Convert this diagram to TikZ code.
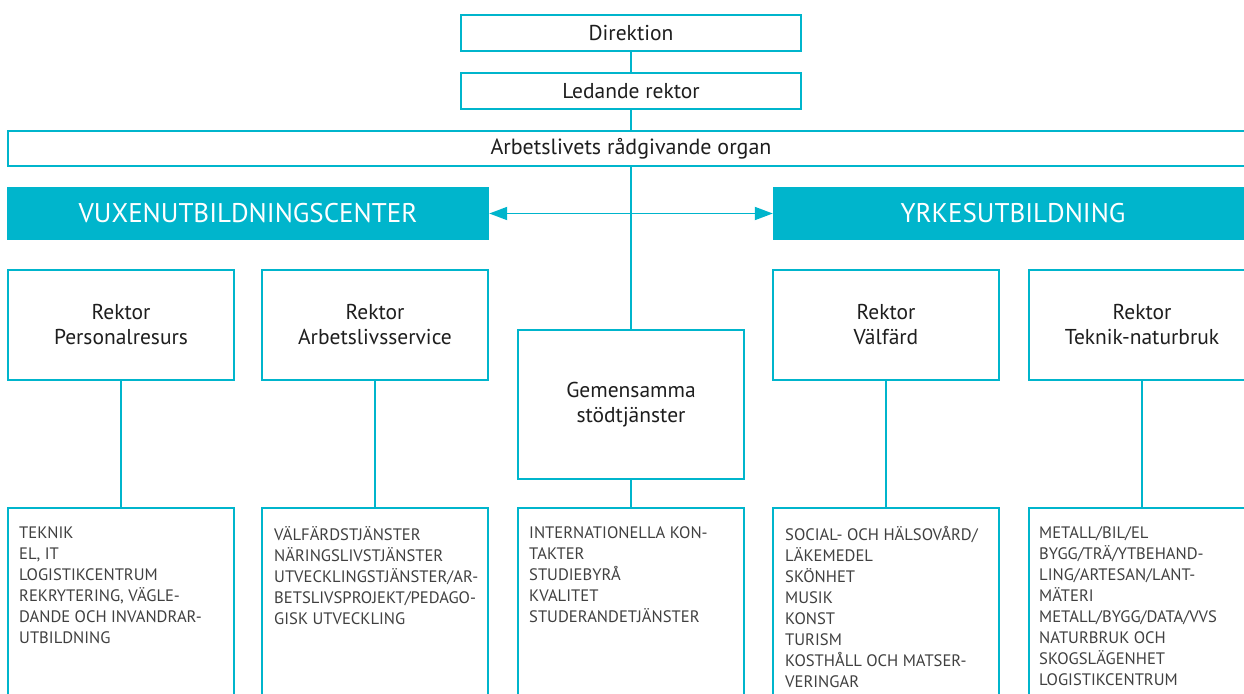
\documentclass[tikz,border=0pt]{standalone}
\usepackage{fontspec}
\setmainfont{PT Sans}
\usetikzlibrary{arrows.meta}
\definecolor{cy}{RGB}{0,181,204}
\definecolor{tx}{RGB}{30,30,30}
\tikzset{
  box/.style={draw=cy, line width=1.6pt, fill=white, inner sep=0pt, text=tx, align=center, font=\fontsize{21.5}{25}\selectfont},
  headbox/.style={fill=cy, draw=none, inner sep=0pt, text=white, font=\fontsize{27}{30}\selectfont},
  conn/.style={draw=cy, line width=1.8pt},
  list/.style={anchor=north west, inner sep=0pt, align=left, text=tx!85, font=\fontsize{16.6}{21}\selectfont}
}
\begin{document}
\begin{tikzpicture}[x=1pt,y=-1pt]
\useasboundingbox (0,0) rectangle (1244,693);
\clip (0,0) rectangle (1244,693);
% top
\node[box, minimum width=340pt, minimum height=36pt] (dir) at (631,33) {Direktion};
\node[box, minimum width=340pt, minimum height=36pt] (led) at (631,91) {Ledande rektor};
\node[box, minimum width=1246pt, minimum height=35pt, font=\fontsize{22}{25}\selectfont] (arb) at (631,148.5) {Arbetslivets rådgivande organ};
% heads
\node[headbox, minimum width=482pt, minimum height=53pt] (vux) at (248,213.5) {VUXENUTBILDNINGSCENTER};
\node[headbox, minimum width=484pt, minimum height=53pt, text width=484pt, align=center] (yrk) at (1015,213.5) {YRKESUTBILDNING\hspace*{4pt}};
% rektor boxes
\node[box, minimum width=226pt, minimum height=110pt] (r1) at (121,325) {Rektor\\Personalresurs};
\node[box, minimum width=226pt, minimum height=110pt] (r2) at (375,325) {Rektor\\Arbetslivsservice};
\node[box, minimum width=226pt, minimum height=149pt] (gem) at (631,404.5) {Gemensamma\\stödtjänster};
\node[box, minimum width=226pt, minimum height=110pt] (r4) at (886,325) {Rektor\\Välfärd};
\node[box, minimum width=226pt, minimum height=110pt] (r5) at (1142,325) {Rektor\\Teknik-naturbruk};
% bottom boxes
\node[box, minimum width=226pt, minimum height=200pt] (b1) at (121,608) {};
\node[box, minimum width=226pt, minimum height=200pt] (b2) at (375,608) {};
\node[box, minimum width=226pt, minimum height=200pt] (b3) at (631,608) {};
\node[box, minimum width=226pt, minimum height=200pt] (b4) at (886,608) {};
\node[box, minimum width=226pt, minimum height=200pt] (b5) at (1142,608) {};
% lists
\node[list] (t1) at (19,526) {TEKNIK\\EL, IT\\LOGISTIKCENTRUM\\REKRYTERING, VÄGLE-\\DANDE OCH INVANDRAR-\\UTBILDNING};
\node[list] (t2) at (274,526) {VÄLFÄRDSTJÄNSTER\\NÄRINGSLIVSTJÄNSTER\\UTVECKLINGSTJÄNSTER/AR-\\BETSLIVSPROJEKT/PEDAGO-\\GISK UTVECKLING};
\node[list] (t3) at (529,526) {INTERNATIONELLA KON-\\TAKTER\\STUDIEBYRÅ\\KVALITET\\STUDERANDETJÄNSTER};
\node[list] (t4) at (785,526) {SOCIAL- OCH HÄLSOVÅRD/\\LÄKEMEDEL\\SKÖNHET\\MUSIK\\KONST\\TURISM\\KOSTHÅLL OCH MATSER-\\VERINGAR};
\node[list] (t5) at (1039,526) {METALL/BIL/EL\\BYGG/TRÄ/YTBEHAND-\\LING/ARTESAN/LANT-\\MÄTERI\\METALL/BYGG/DATA/VVS\\NATURBRUK OCH\\SKOGSLÄGENHET\\LOGISTIKCENTRUM};
% connectors
\draw[conn] (dir.south) -- (led.north);
\draw[conn] (led.south) -- (arb.north);
\draw[conn] (arb.south) -- (gem.north);
\draw[conn, {Triangle[length=18pt,width=13pt]}-{Triangle[length=18pt,width=13pt]}] (vux.east) -- (yrk.west);
\draw[conn] (r1.south) -- (b1.north);
\draw[conn] (r2.south) -- (b2.north);
\draw[conn] (gem.south) -- (b3.north);
\draw[conn] (r4.south) -- (b4.north);
\draw[conn] (r5.south) -- (b5.north);
\end{tikzpicture}
\end{document}
